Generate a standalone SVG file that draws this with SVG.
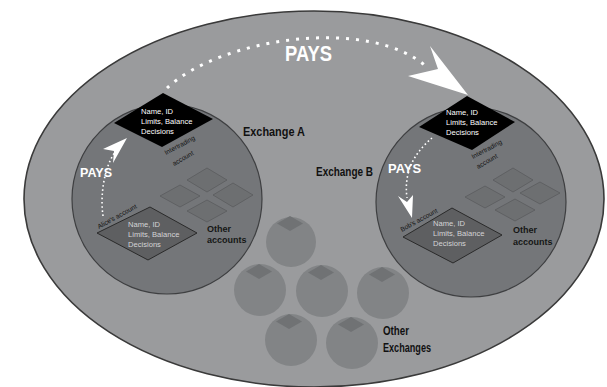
<svg xmlns="http://www.w3.org/2000/svg" width="607" height="387" viewBox="0 0 607 387">
<defs>
<style>
.bold{font-family:"Liberation Sans",Arial,sans-serif;font-weight:bold}
.reg{font-family:"Liberation Sans",Arial,sans-serif}
.lbl{fill:#111;font-size:12.5px}
.pays{fill:#fff}
.acc{fill:#161616;font-size:9px}
.dtxt{fill:#fff;font-size:7.6px}
.atxt{fill:#d4d4d6;font-size:7.6px}
.rot{fill:#111;font-size:6.6px}
.exc{fill:#747679;stroke:#3e3f41;stroke-width:1.2}
.blk{fill:#000}
.accd{fill:#5e5f61;stroke:#2a2a2a;stroke-width:1}
.small{fill:#6d6f71;stroke:#5b5c5e;stroke-width:0.8}
.oc{fill:#828486}
.od{fill:#707274}
.dots{fill:none;stroke:#fff;stroke-linecap:butt}
.head{fill:#fff}
</style>
</defs>
<rect width="607" height="387" fill="#fff"/>
<ellipse id="world" cx="314" cy="199" rx="290" ry="188" fill="#9a9b9d" stroke="#3a3a3a" stroke-width="1.6"/>

<g id="exchangeA">
<circle class="exc" cx="167" cy="199" r="95"/>
<polygon class="blk" points="163,93 213,119 162,147 114,123"/>
<text class="reg dtxt" x="141" y="114">Name, ID</text>
<text class="reg dtxt" x="141" y="124">Limits, Balance</text>
<text class="reg dtxt" x="141" y="134">Decisions</text>
<text class="reg rot" transform="translate(166,155) rotate(-28)">Intertrading</text>
<text class="reg rot" transform="translate(174,166) rotate(-30)">account</text>
<polygon class="small" points="207,168 227,180 207,192 187,180"/>
<polygon class="small" points="180,185 200,196 180,207 160,196"/>
<polygon class="small" points="233,183 253,195 233,207 213,195"/>
<polygon class="small" points="207,200 227,211 207,222 187,211"/>
<polygon class="accd" points="150,207 197,233 148,260 97,233"/>
<text class="reg atxt" x="128" y="227">Name, ID</text>
<text class="reg atxt" x="128" y="237">Limits, Balance</text>
<text class="reg atxt" x="128" y="247">Decisions</text>
<text class="reg rot" transform="translate(99,229) rotate(-29)">Alice's account</text>
<text class="bold acc" x="207" y="232">Other</text>
<text class="bold acc" x="207" y="243">accounts</text>
<text class="bold lbl" x="243" y="136" textLength="62" lengthAdjust="spacingAndGlyphs">Exchange A</text>
</g>

<g id="exchangeB">
<circle class="exc" cx="471" cy="202" r="95"/>
<polygon class="blk" points="467,96 515,122 472,150 419,127"/>
<text class="reg dtxt" x="446" y="115">Name, ID</text>
<text class="reg dtxt" x="446" y="125">Limits, Balance</text>
<text class="reg dtxt" x="446" y="135">Decisions</text>
<text class="reg rot" transform="translate(473,159) rotate(-28)">Intertrading</text>
<text class="reg rot" transform="translate(478,169) rotate(-30)">account</text>
<polygon class="small" points="513,168 533,180 513,192 493,180"/>
<polygon class="small" points="485,186 505,197 485,208 465,197"/>
<polygon class="small" points="540,182 560,193 540,204 520,193"/>
<polygon class="small" points="515,199 535,210 515,221 495,210"/>
<polygon class="accd" points="452,208 502,235 453,263 403,237"/>
<text class="reg atxt" x="433" y="226">Name, ID</text>
<text class="reg atxt" x="433" y="236">Limits, Balance</text>
<text class="reg atxt" x="433" y="246">Decisions</text>
<text class="reg rot" transform="translate(402,232) rotate(-29)">Bob's account</text>
<text class="bold acc" x="513" y="233">Other</text>
<text class="bold acc" x="513" y="245">accounts</text>
<text class="bold lbl" x="316" y="176" textLength="57" lengthAdjust="spacingAndGlyphs">Exchange B</text>
</g>

<g id="otherExchanges">
<circle class="oc" cx="291" cy="242" r="25"/>
<polygon class="od" points="290,216 303,223.5 290,231 277,223.5"/>
<circle class="oc" cx="260" cy="290" r="26"/>
<polygon class="od" points="259,264 272,271.5 259,279 246,271.5"/>
<circle class="oc" cx="322" cy="291" r="26"/>
<polygon class="od" points="321,265 334,272.5 321,280 308,272.5"/>
<circle class="oc" cx="383" cy="293" r="26"/>
<polygon class="od" points="382,267 395,274.5 382,282 369,274.5"/>
<circle class="oc" cx="291" cy="340" r="26"/>
<polygon class="od" points="289,314 302,321.5 289,329 276,321.5"/>
<circle class="oc" cx="352" cy="343" r="26"/>
<polygon class="od" points="351,317 364,324.5 351,332 338,324.5"/>
<text class="bold lbl" x="383" y="335" textLength="26" lengthAdjust="spacingAndGlyphs">Other</text>
<text class="bold lbl" x="383" y="352" textLength="48" lengthAdjust="spacingAndGlyphs">Exchanges</text>
</g>

<g id="connectors">
<path class="dots" d="M167,88 C220,38 370,15 428,68" stroke-width="3" stroke-dasharray="3 7"/>
<polygon class="head" points="430,46 438,69 408,76 468,95"/>
<text class="bold pays" x="285" y="61" font-size="22" textLength="47" lengthAdjust="spacingAndGlyphs">PAYS</text>
<path class="dots" d="M103,216 C100,195 104,168 115,152" stroke-width="1.6" stroke-dasharray="1.6 2.6"/>
<polygon class="head" points="127,138 103,149 114,151 113,163"/>
<text class="bold pays" x="80" y="177" font-size="13.5" textLength="32" lengthAdjust="spacingAndGlyphs">PAYS</text>
<path class="dots" d="M432,138 C418,150 403,168 407,198" stroke-width="1.6" stroke-dasharray="1.6 2.6"/>
<polygon class="head" points="398,196 407,202 413,195 412,218"/>
<text class="bold pays" x="388" y="173" font-size="13.5" textLength="33" lengthAdjust="spacingAndGlyphs">PAYS</text>
</g>
</svg>
